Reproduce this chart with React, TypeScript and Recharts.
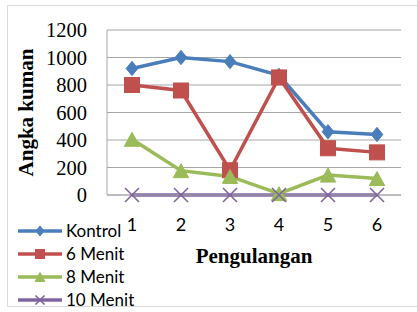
import React from 'react';
import { LineChart, Line, XAxis, YAxis, CartesianGrid, Legend, Label } from 'recharts';

const categories = ['1', '2', '3', '4', '5', '6'];
const kontrol = [920, 1000, 970, 870, 460, 440];
const menit6 = [800, 760, 180, 855, 340, 310];
const menit8 = [405, 177, 135, 10, 145, 120];
const menit10 = [0, 0, 0, 0, 0, 0];
const yTicks = [0, 200, 400, 600, 800, 1000, 1200];

type MarkerType = 'diamond' | 'square' | 'triangle' | 'x';

const series: { key: string; name: string; color: string; marker: MarkerType }[] = [
  { key: 'kontrol', name: 'Kontrol', color: '#4A7EBB', marker: 'diamond' },
  { key: 'm6', name: '6 Menit', color: '#C0504D', marker: 'square' },
  { key: 'm8', name: '8 Menit', color: '#9BBB59', marker: 'triangle' },
  { key: 'm10', name: '10 Menit', color: '#8064A2', marker: 'x' },
];

const data = categories.map((c, i) => ({
  cat: c,
  kontrol: kontrol[i],
  m6: menit6[i],
  m8: menit8[i],
  m10: menit10[i],
}));

function drawMarker(type: MarkerType, cx: number, cy: number, color: string, s: number, key?: string) {
  const h = s / 2;
  if (type === 'diamond') {
    return (
      <polygon key={key} points={`${cx},${cy - h * 1.1} ${cx + h * 0.9},${cy} ${cx},${cy + h * 1.1} ${cx - h * 0.9},${cy}`} fill={color} stroke={color} strokeWidth={1} />
    );
  }
  if (type === 'square') {
    return <rect key={key} x={cx - h} y={cy - h} width={s} height={s} fill={color} stroke={color} strokeWidth={1} />;
  }
  if (type === 'triangle') {
    return (
      <polygon key={key} points={`${cx},${cy - h} ${cx + h * 1.1},${cy + h} ${cx - h * 1.1},${cy + h}`} fill={color} stroke={color} strokeWidth={1} />
    );
  }
  return (
    <g key={key}>
      <line x1={cx - h} y1={cy - h} x2={cx + h} y2={cy + h} stroke={color} strokeWidth={1.6} />
      <line x1={cx - h} y1={cy + h} x2={cx + h} y2={cy - h} stroke={color} strokeWidth={1.6} />
    </g>
  );
}

const makeDot = (type: MarkerType, color: string, size: number) => (props: any) => {
  const { cx, cy, index } = props;
  if (cx == null || cy == null) return <g key={`e-${index}`} />;
  return drawMarker(type, cx, cy, color, size, `${type}-${index}`);
};

const markerSizes: Record<MarkerType, number> = { diamond: 13, square: 15, triangle: 14, x: 14 };

const LegendContent = () => (
  <div style={{ fontFamily: 'Lato, "Open Sans", sans-serif', fontSize: 17, color: '#000' }}>
    {series.map((s) => (
      <div key={s.key} style={{ display: 'flex', alignItems: 'center', height: 23 }}>
        <svg width={48} height={20} style={{ display: 'block' }}>
          <line x1={0} y1={10} x2={44} y2={10} stroke={s.color} strokeWidth={3.5} />
          {drawMarker(s.marker, 22, 10, s.color, 9)}
        </svg>
        <span style={{ whiteSpace: 'nowrap' }}>{s.name}</span>
      </div>
    ))}
  </div>
);

export default function App() {
  return (
    <div style={{ position: 'absolute', left: 0, top: 0, width: 417, height: 312, background: '#fff' }}>
      <div
        style={{
          position: 'absolute',
          left: 7,
          top: 5,
          width: 420,
          height: 302,
          border: '1.5px solid #D9D9D9',
          boxSizing: 'border-box',
        }}
      />
      <div style={{ position: 'absolute', left: 0, top: 0 }}>
        <LineChart width={417} height={312} data={data} margin={{ top: 30, right: 16, left: 0, bottom: 0 }}>
          <CartesianGrid vertical={false} stroke="#A6A6A6" strokeWidth={1} />
          <XAxis
            dataKey="cat"
            height={117}
            padding={{ left: 25, right: 24 }}
            tickLine={false}
            tickSize={0}
            tickMargin={23}
            axisLine={{ stroke: '#A6A6A6' }}
            tick={{ fontFamily: 'Lato, sans-serif', fontSize: 18, fill: '#000' }}
            interval={0}
          >
            <Label
              value="Pengulangan"
              position="center"
              dy={2}
              style={{ fontFamily: '"Liberation Serif", serif', fontWeight: 'bold', fontSize: 21, fill: '#000' }}
            />
          </XAxis>
          <YAxis
            width={107}
            domain={[0, 1200]}
            ticks={yTicks}
            interval={0}
            tickLine={false}
            tickSize={0}
            tickMargin={20}
            axisLine={{ stroke: '#A6A6A6' }}
            tick={{ fontFamily: '"Liberation Serif", serif', fontSize: 20.5, fill: '#000' }}
          >
            <Label
              value="Angka kuman"
              angle={-90}
              position="center"
              dx={-28}
              style={{ fontFamily: '"Liberation Serif", serif', fontWeight: 'bold', fontSize: 21, fill: '#000', textAnchor: 'middle' }}
            />
          </YAxis>
          <Legend
            layout="vertical"
            align="center"
            verticalAlign="middle"
            content={<LegendContent />}
            wrapperStyle={{ left: 18, top: 219, width: 160, height: 92 }}
          />
          {series.map((s) => (
            <Line
              key={s.key}
              type="linear"
              dataKey={s.key}
              name={s.name}
              stroke={s.color}
              strokeWidth={3.5}
              dot={makeDot(s.marker, s.color, markerSizes[s.marker])}
              activeDot={false}
              isAnimationActive={false}
            />
          ))}
        </LineChart>
      </div>
    </div>
  );
}
